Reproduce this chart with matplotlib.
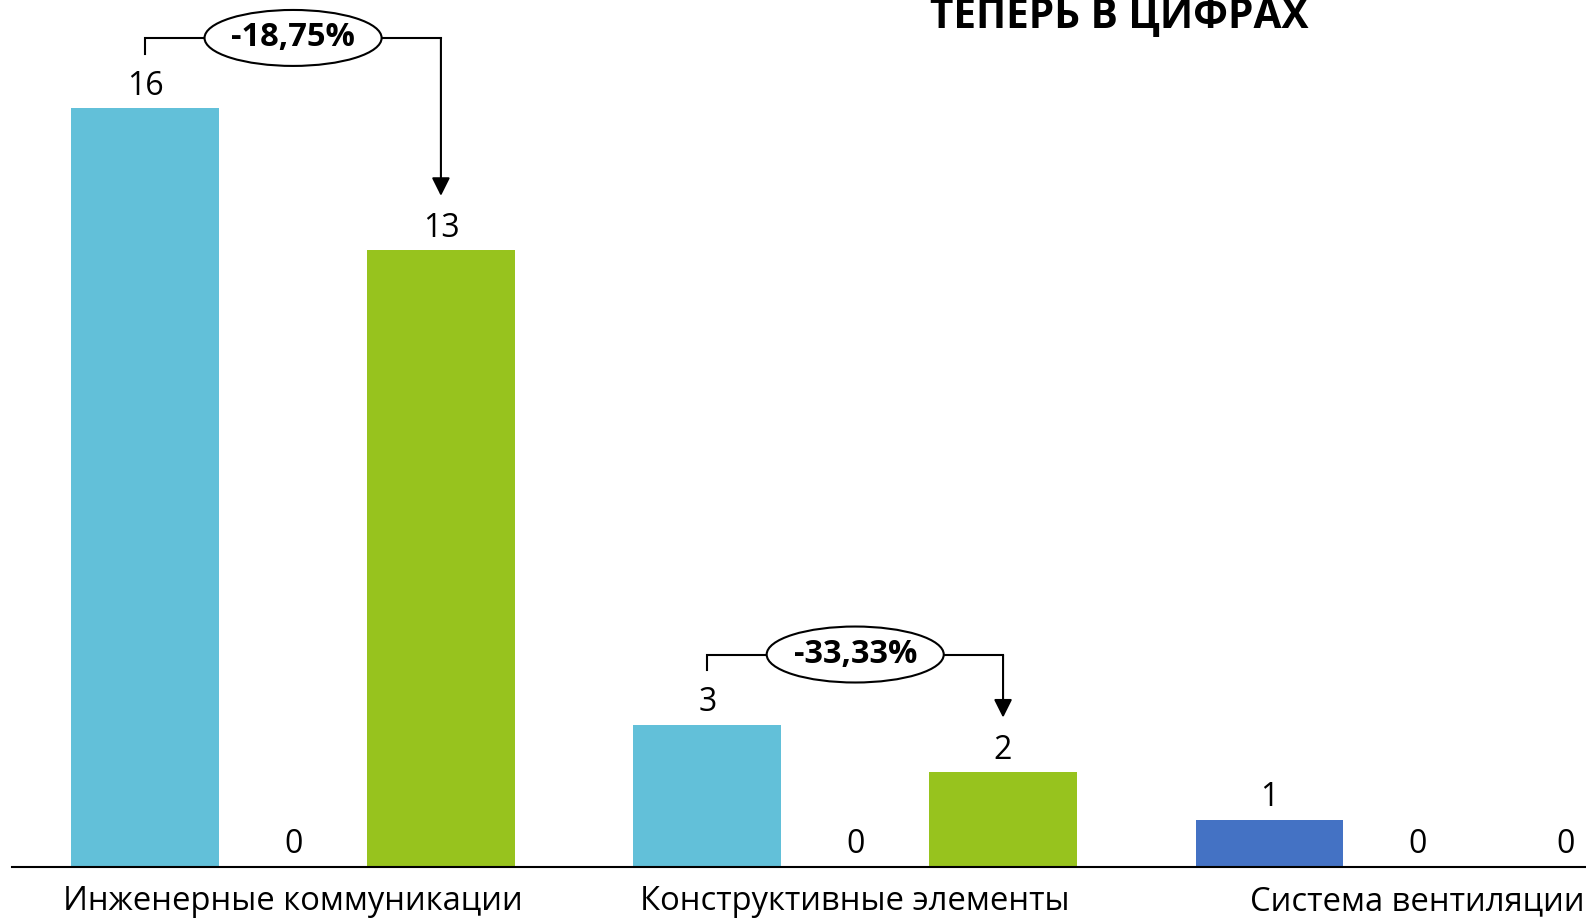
import numpy as np
import matplotlib.pyplot as plt
from matplotlib.patches import Ellipse

plt.rcParams['font.family'] = ['Open Sans', 'DejaVu Sans']

# Data
categories = ['Инженерные коммуникации', 'Конструктивные элементы', 'Система вентиляции']
before = [16, 3, 1]
middle = [0, 0, 0]
after = [13, 2, 0]
title = 'ТЕПЕРЬ В ЦИФРАХ'

# Colours
light_blue = '#62C0D9'
green = '#97C31E'
blue = '#4472C4'
before_colors = [light_blue, light_blue, blue]

W, H = 1586, 918
fig = plt.figure(figsize=(W / 100, H / 100), dpi=100)
ax = fig.add_axes([12 / W, 51 / H, 1 - 12 / W, 867 / H])

x = np.arange(len(categories))
bw = 0.263
step = 0.263

ax.bar(x - step, before, bw, color=before_colors)
ax.bar(x, middle, bw, color=green)
ax.bar(x + step, after, bw, color=green)

ax.set_xlim(-0.5, 2.30)
ax.set_ylim(0, 18.28)

# value labels
for xs, vals in [(x - step, before), (x, middle), (x + step, after)]:
    for xi, v in zip(xs, vals):
        ax.annotate(str(v), (xi, v), xytext=(0, 4), textcoords='offset points',
                    ha='center', va='bottom', fontsize=23)

# change brackets
for i in range(len(categories)):
    if before[i] == 0 or after[i] == 0:
        continue
    x1 = x[i] - step
    x3 = x[i] + step
    top = max(before[i], after[i]) + 1.48
    ax.plot([x1, x1, x3], [before[i] + 1.15, top, top], color='black', lw=1.5,
            solid_joinstyle='miter', zorder=3)
    ax.annotate('', xy=(x3, after[i] + 1.15), xytext=(x3, top - 0.01),
                arrowprops=dict(arrowstyle='-|>,head_length=1.1,head_width=0.55',
                                color='black', lw=1.5, shrinkA=0, shrinkB=0),
                zorder=3)
    ax.add_patch(Ellipse((x[i], top), 0.315, 1.18, facecolor='white',
                         edgecolor='black', lw=1.5, zorder=4))
    pct = (after[i] - before[i]) / before[i] * 100
    ax.text(x[i], top, f'{pct:.2f}%'.replace('.', ','), ha='center', va='center',
            fontsize=23.5, fontweight='bold', zorder=5)

for side in ['top', 'right', 'left']:
    ax.spines[side].set_visible(False)
ax.spines['bottom'].set_linewidth(1.5)
ax.set_yticks([])
ax.set_xticks(x)
ax.set_xticklabels(categories, fontsize=23.6)
ax.tick_params(axis='x', length=0, pad=13)

fig.text(1119 / W, 1 - 28 / H, title, ha='center', va='baseline',
         fontsize=29.2, fontweight='bold')

fig.savefig('out.png', dpi=100)
